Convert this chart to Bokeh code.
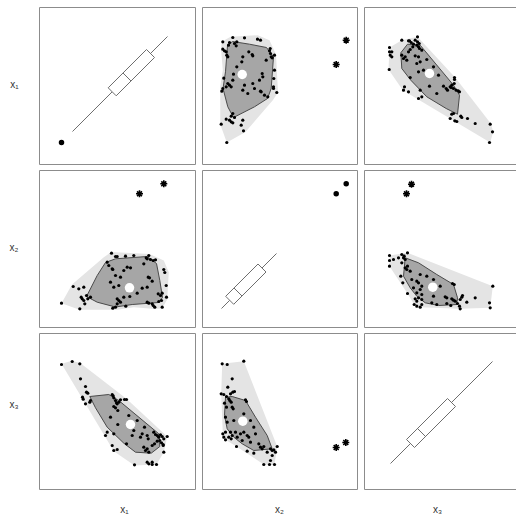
from bokeh.plotting import figure
from bokeh.layouts import gridplot
from bokeh.models import Range1d, LinearAxis, FixedTicker
from bokeh.embed import file_html
from bokeh.resources import INLINE

# ---------------- data ----------------
var_labels = ["x\u2081", "x\u2082", "x\u2083"]

# pair x1 / x2
p12_x1 = [72, 76, 77.7, 86, 94.3, 106.7, 107.7, 109.3, 111, 113.7, 116, 124.3, 125.3, 72.7, 73.3,
          84.3, 87.7, 91, 104.3, 69.3, 67.7, 76, 81, 71, 74.3, 79.3, 108.7, 110, 112.7, 107.7,
          102.7, 97.7, 90.3, 84.3, 126.7, 118.7, 121, 122.7, 122, 119.3, 127, 113.7, 115.3, 112.7,
          107.7, 109.3, 86.3, 76, 73.3, 77.7, 79.3, 81, 77.7, 51, 48.3, 47, 44.3, 42.7, 39.3, 33.7,
          41.7, 45.3, 40.3, 22, 44.3, 122.7]
p12_x2 = [74.3, 71, 71, 71.3, 72, 69.7, 68.7, 72, 68, 67, 67.7, 58, 55, 58.7, 58, 57, 60.3, 59.7,
          63.7, 62, 65.3, 52, 50.3, 45.3, 40.3, 42, 50.3, 49.7, 46.3, 40.3, 39.3, 34.3, 31, 30.3,
          42, 33.7, 32, 34.3, 27, 26, 30.3, 22, 20.3, 23.7, 25.3, 24.3, 21.3, 20.3, 19.3, 23.7, 27,
          25.3, 28.7, 30.3, 28.7, 32, 27, 28.7, 38.7, 41, 30.3, 23.7, 18.7, 24.3, 40.3, 20.3]
p12_out_x1 = [124.3, 100]
p12_out_x2 = [143.7, 133.7]
p12_med_x1 = [90]
p12_med_x2 = [39.7]
p12_bag_x1 = [47, 57.7, 66, 76, 107.7, 117, 120.3, 123, 119, 92.7, 76, 57.7]
p12_bag_x2 = [31, 52, 65, 68.7, 71, 64, 47, 30, 25, 23, 20.5, 25.3]
p12_loop_x1 = [22, 32.5, 64.3, 72, 110, 124.3, 129.3, 127.7, 122.7, 116, 94.3, 77.7, 40]
p12_loop_x2 = [24.3, 43, 70.3, 75.5, 73.5, 67, 55.3, 28, 19.3, 18.5, 20.3, 17.7, 17.8]

# pair x1 / x3
p13_x1 = [22, 32.7, 40.3, 41, 46, 47, 48.3, 43, 43.7, 51, 50.3, 46, 72.7, 73.7, 74.3, 76, 77, 77.7,
          79.3, 81, 85, 87, 76, 74.3, 78.3, 89.3, 71, 97.7, 78.3, 67.7, 66, 74.3, 72.7, 74.3, 77.7,
          87, 92.7, 102.7, 105, 107.7, 108.7, 114.3, 116, 117.7, 119.3, 121, 122.7, 124.3, 127.7,
          120.3, 122, 123.7, 117.7, 115, 112.7, 107.7, 106, 109.3, 124.3, 123.7, 95, 107.7, 109.3,
          112.7, 112.7, 117, 104.3, 101, 94.3]
p13_x3 = [125, 128, 125.7, 110.7, 103, 97.3, 96.3, 92.3, 90.3, 89, 87.3, 85.7, 95, 93.7, 91.7, 89,
          86.7, 85.7, 87.3, 89.7, 90, 90, 81.7, 83, 79, 74, 72.3, 69, 65, 57.3, 54, 55.7, 44, 39,
          40, 45.7, 54, 55.7, 62.3, 54, 50.7, 57.3, 55, 54, 52.3, 54.7, 53, 50.7, 53, 49, 46.7, 45,
          48.3, 45.7, 44, 40.7, 39, 37.3, 37.3, 44, 24.7, 27.3, 25.7, 27.3, 25, 25, 42.3, 52.3, 59]
p13_out_x1 = []
p13_out_x3 = []
p13_med_x1 = [91]
p13_med_x3 = [65]
p13_bag_x1 = [50.3, 69.3, 79.3, 119.3, 120.3, 111.7, 96, 84.3, 67.7, 56]
p13_bag_x3 = [93, 95, 89, 55.7, 43, 36.3, 37.3, 46.3, 62.3, 81.7]
p13_loop_x1 = [22, 32.7, 41, 87, 127.7, 124.3, 117, 95, 74.3]
p13_loop_x3 = [125.7, 128.7, 126.3, 90.7, 53, 37.3, 25, 24, 38.3]

# pair x2 / x3
p23_x2 = [19.7, 24.7, 41.3, 29.7, 25.3, 18.7, 21.3, 24, 28, 30.3, 32, 26.3, 27.3, 28.7, 22, 24,
          29.7, 30.7, 43, 44, 23, 24.7, 31.3, 41.3, 48, 51.3, 23, 20.3, 21.3, 23, 28, 29.7, 33, 38,
          34.7, 41.3, 44.7, 46.3, 53, 26.3, 28.7, 34, 39.7, 48, 56.3, 58, 61.3, 68, 69.7, 71.3,
          74.7, 73, 64.7, 59.7, 51.3, 69.7, 68, 67, 72, 61.3, 44.7]
p23_x3 = [125.7, 125, 128.3, 110.7, 102.3, 95.7, 95, 93, 95.7, 97.3, 98, 90.7, 89, 87.3, 86.3,
          82.3, 82.3, 80.7, 89.7, 88, 72.3, 67.3, 69, 75.7, 69, 62.3, 57.3, 55.7, 52.3, 49.7, 57.3,
          54, 57.3, 55.7, 52.3, 57.3, 54, 52.3, 55.7, 52.3, 50.7, 43, 49, 47.3, 45.7, 42.3, 43,
          40.7, 39, 39.7, 43, 37.3, 37.3, 40.7, 36.3, 34, 29, 25, 25, 25, 38.3]
p23_out_x2 = [133.7, 143.3]
p23_out_x3 = [42, 47]
p23_med_x2 = [40.3]
p23_med_x3 = [68.3]
p23_bag_x2 = [23, 29.7, 43, 53, 64.7, 69.7, 51.3, 39.7, 31.3, 24.7, 22]
p23_bag_x3 = [92.3, 93, 89, 72.3, 54, 40.7, 39, 45.7, 52.3, 60.7, 74]
p23_loop_x2 = [19.7, 41.3, 74.7, 72, 61.3, 34, 23, 21.3, 20.3, 18.7]
p23_loop_x3 = [125.7, 128.3, 43, 25, 25, 43, 49.7, 52.3, 55.7, 95.7]

# diagonal boxplots (five-number summaries + outliers)
box_lo = [33, 19, 26]
box_q1 = [72.7, 27.2, 46]
box_med = [87.5, 35.5, 57]
box_q3 = [111, 59.5, 87]
box_hi = [128, 74, 128]
box_out = [[22], [133.7, 143.7], []]

pair_data = {
    (0, 1): {"pts": {0: p12_x1, 1: p12_x2}, "out": {0: p12_out_x1, 1: p12_out_x2},
             "med": {0: p12_med_x1, 1: p12_med_x2}, "bag": {0: p12_bag_x1, 1: p12_bag_x2},
             "loop": {0: p12_loop_x1, 1: p12_loop_x2}},
    (0, 2): {"pts": {0: p13_x1, 2: p13_x3}, "out": {0: p13_out_x1, 2: p13_out_x3},
             "med": {0: p13_med_x1, 2: p13_med_x3}, "bag": {0: p13_bag_x1, 2: p13_bag_x3},
             "loop": {0: p13_loop_x1, 2: p13_loop_x3}},
    (1, 2): {"pts": {1: p23_x2, 2: p23_x3}, "out": {1: p23_out_x2, 2: p23_out_x3},
             "med": {1: p23_med_x2, 2: p23_med_x3}, "bag": {1: p23_bag_x2, 2: p23_bag_x3},
             "loop": {1: p23_loop_x2, 2: p23_loop_x3}},
}

# ---------------- layout / style ----------------
FRAME_W = [156, 155, 152]
FRAME_H = [157, 157, 156]
BORDER_L = [39, 4, 3]
BORDER_R = [3, 4, 0]
BORDER_T = [7, 3, 3]
BORDER_B = [3, 3, 28]
ROW_LABEL_AT = [80, 80, 85]
COL_LABEL_AT = [85, 77, 73]
BOX_HALF = 4.0

EDGE = "#8c8c8c"
LOOP = "#e4e4e4"
BAG = "#a6a6a6"
BAG_LINE = "#4a4a4a"
BOX_LINE = "#6e6e6e"
FONT = "Liberation Sans"


def make_axis(ticks, labels, standoff, line_color=None):
    return LinearAxis(
        ticker=FixedTicker(ticks=ticks),
        major_label_overrides=dict(zip(ticks, labels)),
        axis_line_color=line_color,
        major_tick_line_color=None, minor_tick_line_color=None,
        major_tick_out=0, major_tick_in=0, minor_tick_out=0, minor_tick_in=0,
        major_label_standoff=standoff,
        major_label_text_font=FONT, major_label_text_font_size="10px",
        major_label_text_color="#333333",
    )


def panel(r, c):
    p = figure(
        width=BORDER_L[c] + FRAME_W[c] + BORDER_R[c],
        height=BORDER_T[r] + FRAME_H[r] + BORDER_B[r],
        x_range=Range1d(0, FRAME_W[c]), y_range=Range1d(0, FRAME_H[r]),
        output_backend="svg", toolbar_location=None, title=None,
        x_axis_location=None, y_axis_location=None,
        min_border_left=BORDER_L[c], min_border_right=BORDER_R[c],
        min_border_top=BORDER_T[r], min_border_bottom=BORDER_B[r],
    )
    p.grid.visible = False
    p.background_fill_color = "white"
    p.border_fill_color = "white"

    if c == 2:
        p.outline_line_color = None
        p.add_layout(make_axis([], [], 0, EDGE), "left")
        p.add_layout(make_axis([], [], 0, EDGE), "above")
        if r != 2:
            p.add_layout(make_axis([], [], 0, EDGE), "below")
    else:
        p.outline_line_color = EDGE
        p.outline_line_width = 1

    if c == 0:
        p.add_layout(make_axis([ROW_LABEL_AT[r]], [var_labels[r]], 21), "left")
    if r == 2:
        p.add_layout(make_axis([COL_LABEL_AT[c]], [var_labels[c]], 14,
                               EDGE if c == 2 else None), "below")

    if r == c:
        k = r
        lo, q1, md, q3, hi = box_lo[k], box_q1[k], box_med[k], box_q3[k], box_hi[k]
        d = BOX_HALF
        p.segment(x0=[lo, q3], y0=[lo, q3], x1=[q1, hi], y1=[q1, hi],
                  line_color=BOX_LINE, line_width=1)
        p.patch([q1 - d, q1 + d, q3 + d, q3 - d], [q1 + d, q1 - d, q3 - d, q3 + d],
                fill_color="white", line_color=BOX_LINE, line_width=1)
        p.segment(x0=[md - d], y0=[md + d], x1=[md + d], y1=[md - d],
                  line_color=BOX_LINE, line_width=1)
        if box_out[k]:
            p.scatter(box_out[k], box_out[k], size=5.5, fill_color="black", line_color=None)
    else:
        dd = pair_data[(min(r, c), max(r, c))]
        p.patch(dd["loop"][c], dd["loop"][r], fill_color=LOOP, line_color=None)
        p.patch(dd["bag"][c], dd["bag"][r], fill_color=BAG, line_color=BAG_LINE, line_width=1)
        p.scatter(dd["pts"][c], dd["pts"][r], size=3.2, fill_color="black", line_color=None)
        p.scatter(dd["med"][c], dd["med"][r], size=9.5, fill_color="white", line_color=None)
        if dd["out"][c]:
            p.scatter(dd["out"][c], dd["out"][r], marker="asterisk", size=7,
                      line_color="black", line_width=1.6)
            p.scatter(dd["out"][c], dd["out"][r], size=3.5, fill_color="black", line_color=None)
    return p


rows = [[panel(r, c) for c in range(3)] for r in range(3)]
grid = gridplot(rows, toolbar_location=None)

open("out.html", "w").write(file_html(grid, INLINE))
